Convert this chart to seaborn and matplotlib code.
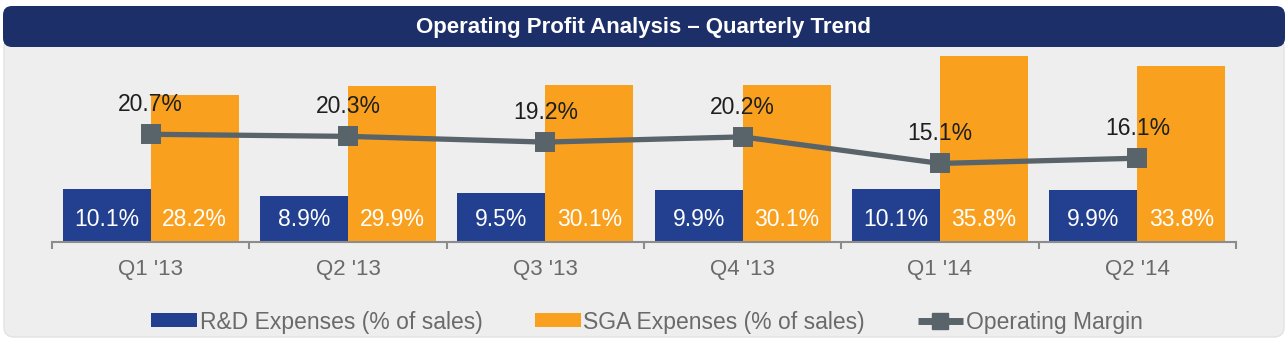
import matplotlib
matplotlib.use("Agg")
import matplotlib.pyplot as plt
import seaborn as sns
import pandas as pd
import numpy as np
from matplotlib.patches import FancyBboxPatch, Patch
from matplotlib.lines import Line2D
from matplotlib.transforms import IdentityTransform

quarters = ["Q1 '13", "Q2 '13", "Q3 '13", "Q4 '13", "Q1 '14", "Q2 '14"]
rd_expenses = [10.1, 8.9, 9.5, 9.9, 10.1, 9.9]
sga_expenses = [28.2, 29.9, 30.1, 30.1, 35.8, 33.8]
operating_margin = [20.7, 20.3, 19.2, 20.2, 15.1, 16.1]
series_names = ["R&D Expenses (% of sales)", "SGA Expenses (% of sales)", "Operating Margin"]
title = "Operating Profit Analysis \u2013 Quarterly Trend"

NAVY = "#22408f"
ORANGE = "#f9a11e"
LINE = "#59636a"
TITLE_BG = "#1c2f69"
PANEL_BG = "#eeeeee"
GRAY_TXT = "#6a6a6a"

sns.set_style("white")
plt.rcParams["font.family"] = ["Liberation Sans", "DejaVu Sans"]

W, H = 1288, 347
fig = plt.figure(figsize=(W / 100, H / 100), dpi=100)
fig.patch.set_facecolor("white")

# panel and title bar (pixel coordinates)
panel = FancyBboxPatch((4, 10), 1280, 300, boxstyle="round,pad=0,rounding_size=10",
                       transform=IdentityTransform(), facecolor=PANEL_BG, edgecolor="#e2e2e2",
                       linewidth=1, zorder=-3)
fig.patches.append(panel)
bar = FancyBboxPatch((3, 300), 1282, 41, boxstyle="round,pad=0,rounding_size=9",
                     transform=IdentityTransform(), facecolor=TITLE_BG, edgecolor="none", zorder=-2)
fig.patches.append(bar)
fig.text(644 / W, (347 - 27) / H, title, color="white", fontsize=16, fontweight="bold",
         ha="center", va="center")

ax = fig.add_axes([52 / W, (347 - 242) / H, (1236 - 52) / W, (242 - 50) / H])
ax.set_facecolor("none")
ax.set_zorder(1)

df = pd.DataFrame({
    "quarter": quarters * 2,
    "series": [series_names[0]] * 6 + [series_names[1]] * 6,
    "value": rd_expenses + sga_expenses,
})
sns.barplot(data=df, x="quarter", y="value", hue="series", palette=[NAVY, ORANGE],
            width=0.892, saturation=1, ax=ax, legend=False, errorbar=None,
            linewidth=0, edgecolor="none")

sns.pointplot(x=quarters, y=operating_margin, color=LINE, markers="s", markersize=12,
              linewidth=3.8, errorbar=None, ax=ax)

# bar labels inside at bottom
for cont, vals in zip(ax.containers[:2], [rd_expenses, sga_expenses]):
    for p, v in zip(cont.patches, vals):
        ax.text(p.get_x() + p.get_width() / 2, 4.4, f"{v:.1f}%", color="white",
                fontsize=16.5, ha="center", va="center")

for i, v in enumerate(operating_margin):
    ax.annotate(f"{v:.1f}%", (i, v), xytext=(0, 21.5), textcoords="offset points",
                ha="center", va="center", fontsize=16.5, color="#1e1e1e", zorder=5)

ax.set_xlim(-0.5, 5.5)
ax.set_ylim(0, 36.9)
ax.set_xlabel("")
ax.set_ylabel("")
ax.set_yticks([])
for s in ["top", "right", "left"]:
    ax.spines[s].set_visible(False)
ax.spines["bottom"].set_color("#8c8c8c")
ax.spines["bottom"].set_linewidth(1.5)
ax.set_xticks(np.arange(-0.5, 6, 1.0), minor=True)
ax.tick_params(axis="x", which="major", length=0, pad=12, labelsize=16, labelcolor=GRAY_TXT)
ax.tick_params(axis="x", which="minor", length=5, width=1.5, color="#8c8c8c", direction="out")
ax.tick_params(axis="x", which="minor", bottom=True)

handles = [
    Patch(facecolor=NAVY, edgecolor="none"),
    Patch(facecolor=ORANGE, edgecolor="none"),
    Line2D([0], [0], color=LINE, lw=5, marker="s", markersize=11, solid_capstyle="butt"),
]
fig.legend(handles, series_names, loc="center", bbox_to_anchor=(647 / W, (347 - 322) / H),
           ncol=3, frameon=False, fontsize=16.5, labelcolor=GRAY_TXT, handlelength=2.0,
           handleheight=0.55, handletextpad=0.1, columnspacing=2.3, borderpad=0)

fig.savefig("out.png", dpi=100)
